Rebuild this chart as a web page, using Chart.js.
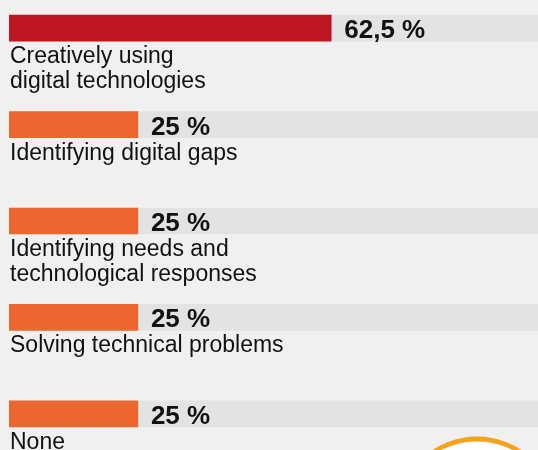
<!DOCTYPE html>
<html>
<head>
<meta charset="utf-8">
<script src="https://cdn.jsdelivr.net/npm/chart.js@4"></script>
<style>
  html, body { margin: 0; padding: 0; background: #f0f0f0; overflow: hidden; }
  body { width: 538px; height: 450px; position: relative; }
  #chart { position: absolute; left: 0; top: -20px; }
</style>
</head>
<body>
<canvas id="chart" width="538" height="482"></canvas>
<script>
// datos
const categorias = [
    ['Creatively using', 'digital technologies'],
    ['Identifying digital gaps'],
    ['Identifying needs and', 'technological responses'],
    ['Solving technical problems'],
    ['None']
];
const valores = [62.5, 25, 25, 25, 25];
const coloresBarra = ['#be1622', '#ec6730', '#ec6730', '#ec6730', '#ec6730'];
const maxEje = 102.6;
const fondo = valores.map(() => maxEje);

// etiquetas: categoría debajo de la barra y valor a la derecha
const etiquetasPlugin = {
    id: 'etiquetas',
    afterDatasetsDraw(chart) {
        const ctx = chart.ctx;
        const meta = chart.getDatasetMeta(0);
        ctx.save();
        meta.data.forEach((bar, i) => {
            const bottom = bar.y + bar.height / 2;
            ctx.fillStyle = '#111';
            ctx.textBaseline = 'alphabetic';
            ctx.textAlign = 'left';
            ctx.font = '23px "Liberation Sans", Arial, sans-serif';
            categorias[i].forEach((linea, j) => {
                ctx.fillText(linea, 10, bottom + 22 + j * 25);
            });
            ctx.font = 'bold 26px "Liberation Sans", Arial, sans-serif';
            const txt = String(valores[i]).replace('.', ',') + ' %';
            ctx.fillText(txt, bar.x + 13, bar.y + 10);
        });
        ctx.restore();
    }
};

// círculo decorativo abajo a la derecha
const circuloPlugin = {
    id: 'circulo',
    afterDraw(chart) {
        const ctx = chart.ctx;
        ctx.save();
        ctx.beginPath();
        ctx.arc(477, 537, 78, 0, Math.PI * 2);
        ctx.fillStyle = '#ffffff';
        ctx.fill();
        ctx.lineWidth = 5;
        ctx.strokeStyle = '#f5a21f';
        ctx.stroke();
        ctx.restore();
    }
};

const ctx = document.getElementById('chart').getContext('2d');
new Chart(ctx, {
    type: 'bar',
    data: {
        labels: categorias.map(c => c.join(' ')),
        datasets: [
            {
                label: 'valor',
                data: valores,
                backgroundColor: coloresBarra,
                barThickness: 26,
                grouped: false,
                order: 1
            },
            {
                label: 'fondo',
                data: fondo,
                backgroundColor: '#e3e3e3',
                barThickness: 26,
                grouped: false,
                order: 2
            }
        ]
    },
    options: {
        indexAxis: 'y',
        responsive: false,
        animation: false,
        layout: { padding: { left: 9, right: 0, top: 0, bottom: 0 } },
        plugins: {
            legend: { display: false },
            tooltip: { enabled: false }
        },
        scales: {
            x: { display: false, min: 0, max: maxEje },
            y: { display: false }
        }
    },
    plugins: [etiquetasPlugin, circuloPlugin]
});
</script>
</body>
</html>
